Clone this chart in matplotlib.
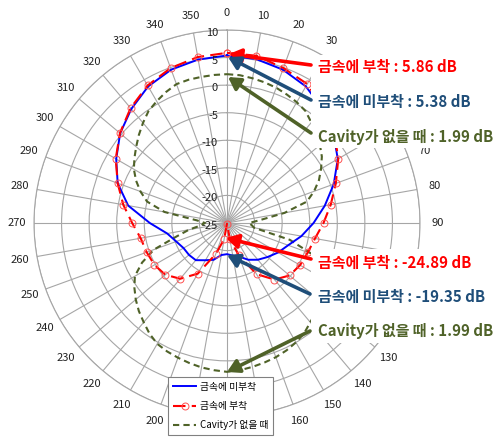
import numpy as np
import matplotlib
matplotlib.use("Agg")
import matplotlib.pyplot as plt
from matplotlib.patches import Rectangle, FancyArrowPatch
from matplotlib.transforms import ScaledTranslation

plt.rcParams['font.family'] = ['Noto Sans CJK KR', 'DejaVu Sans']

# ---- data (dB) ----
angles10 = list(range(0, 360, 10))
angles5 = list(range(0, 360, 5))

red_attached = [5.86, 5.8, 4.9, 4.1, 2.2, 0.4, -1.7, -4.0, -5.9, -7.5,
                -8.8, -9.4, -9.7, -10.2, -11.6, -14.3, -18.8, -22.0, -24.89, -22.0,
                -19.0, -14.4, -11.8, -10.4, -9.8, -9.5, -9.1, -7.8, -5.9, -3.9,
                -1.7, 0.35, 2.2, 3.8, 4.9, 5.56]

blue_unattached = [5.38, 5.2, 4.6, 3.6, 2.0, 0.2, -1.8, -4.4, -7.0, -9.3,
                   -11.3, -13.2, -14.3, -15.4, -16.3, -17.3, -18.5, -19.0, -19.35, -19.1,
                   -17.9, -17.2, -16.2, -16.0, -15.9, -15.2, -14.0, -11.0, -6.8, -3.9,
                   -1.8, 0.3, 2.0, 3.6, 4.6, 5.1]

green_nocavity = [1.99, 1.9, 1.65, 1.4, 1.1, 0.7, 0.3, -0.2, -1.2, -2.0,
                  -3.0, -4.0, -5.3, -6.6, -8.2, -10.0, -14.4, -19.0, -21.0, -20.5,
                  -20.0, -13.2, -8.7, -6.8, -5.3, -4.0, -3.0, -2.2, -1.5, -0.6,
                  0.0, 0.5, 0.9, 1.2, 1.5, 1.8, 1.99, 1.8, 1.6, 1.3,
                  1.0, 0.7, 0.3, -0.5, -1.5, -2.4, -3.4, -4.5, -5.7, -8.0,
                  -10.9, -15.5, -18.0, -20.3, -21.0, -19.5, -13.5, -10.0, -8.3, -6.8,
                  -5.5, -4.5, -3.5, -2.4, -1.3, -0.2, 0.5, 1.2, 1.8, 1.9,
                  1.9, 1.95]

r_ticks = [-25, -20, -15, -10, -5, 0, 5, 10]
# angle labels hidden behind the annotation boxes / legend in the original are left empty
hidden_angles = [40, 50, 60, 100, 110, 120, 170]
theta_labels = ['' if a in hidden_angles else str(a) for a in angles10]

series_names = ['금속에 미부착', '금속에 부착', 'Cavity가 없을 때']
ann_upper = ['금속에 부착 : 5.86 dB', '금속에 미부착 : 5.38 dB', 'Cavity가 없을 때 : 1.99 dB']
ann_lower = ['금속에 부착 : -24.89 dB', '금속에 미부착 : -19.35 dB', 'Cavity가 없을 때 : 1.99 dB']

RED = '#FF0000'
BLUE = '#0000FF'
GREEN = '#4F6228'
NAVY = '#1F4E79'

W, H = 494, 440
fig = plt.figure(figsize=(W / 100, H / 100), dpi=100)
cx, cy, R = 227, 223, 193
ax = fig.add_axes([(cx - R) / W, (H - cy - R) / H, 2 * R / W, 2 * R / H], projection='polar')
ax.set_theta_zero_location('N')
ax.set_theta_direction(-1)
ax.set_rlim(-25, 10)


def closed(ang, vals):
    t = np.deg2rad(list(ang) + [ang[0]])
    v = list(vals) + [vals[0]]
    return t, v


t, v = closed(angles10, blue_unattached)
l1, = ax.plot(t, v, color=BLUE, lw=1.4, label=series_names[0], zorder=4)
t, v = closed(angles10, red_attached)
l2, = ax.plot(t, v, color=RED, lw=1.5, ls=(0, (6, 3)), marker='o', ms=5,
              mfc='none', mec='#FF5050', mew=0.7, label=series_names[1], zorder=5)
t, v = closed(angles5, green_nocavity)
l3, = ax.plot(t, v, color=GREEN, lw=1.5, ls=(0, (3, 2)), label=series_names[2], zorder=3)

ax.set_rticks(r_ticks)
ax.set_yticklabels([])
ax.set_thetagrids(angles10, theta_labels, fontsize=8)
ax.tick_params(axis='x', pad=2, colors='#222222')
ax.grid(True, color='#A6A6A6', lw=0.8)
ax.spines['polar'].set_color('#A6A6A6')
ax.spines['polar'].set_linewidth(0.8)

off = ScaledTranslation(-9 / 100, -3 / 100, fig.dpi_scale_trans)
for r in r_ticks:
    ax.text(0, r, str(r), ha='right', va='center', fontsize=8, color='#222222',
            transform=ax.transData + off, zorder=6)


# annotations (figure pixel coordinates, y measured from top)
def fp(x, y):
    return (x / W, 1 - y / H)


# white blocks behind the annotation texts
for y0, y1 in [(55, 148), (249, 343)]:
    fig.patches.append(Rectangle(fp(311, y1), (W - 311) / W, (y1 - y0) / H,
                                 transform=fig.transFigure, facecolor='white',
                                 edgecolor='none', zorder=9))

upper_specs = [(ann_upper[0], RED, 67, (311, 65), (229, 54)),
               (ann_upper[1], NAVY, 102, (311, 100), (228, 57)),
               (ann_upper[2], GREEN, 137, (311, 133), (228, 77))]
lower_specs = [(ann_lower[0], RED, 263, (311, 259), (226, 238)),
               (ann_lower[1], NAVY, 297, (310, 294), (227, 255)),
               (ann_lower[2], GREEN, 331, (310, 331), (227, 372))]

for txt, col, ty, tail, tip in upper_specs + lower_specs:
    fig.text(318 / W, 1 - ty / H, txt, color=col, fontsize=10.8, fontweight='bold',
             ha='left', va='center', zorder=10)
    fig.patches.append(FancyArrowPatch(
        fp(*tail), fp(*tip), transform=fig.transFigure,
        arrowstyle='-|>,head_length=4.5,head_width=2.6',
        mutation_scale=1.6, color=col, lw=2.6, zorder=11, shrinkA=0, shrinkB=0))

leg = ax.legend(handles=[l1, l2, l3], loc='upper left', bbox_to_anchor=fp(168, 377),
                bbox_transform=fig.transFigure, fontsize=7, frameon=True, fancybox=False,
                edgecolor='#808080', framealpha=1, handlelength=2.4, borderpad=0.5,
                labelspacing=0.95, handletextpad=0.4, borderaxespad=0)
leg.set_zorder(12)
leg.get_frame().set_linewidth(0.8)

fig.savefig('out.png', dpi=100)
